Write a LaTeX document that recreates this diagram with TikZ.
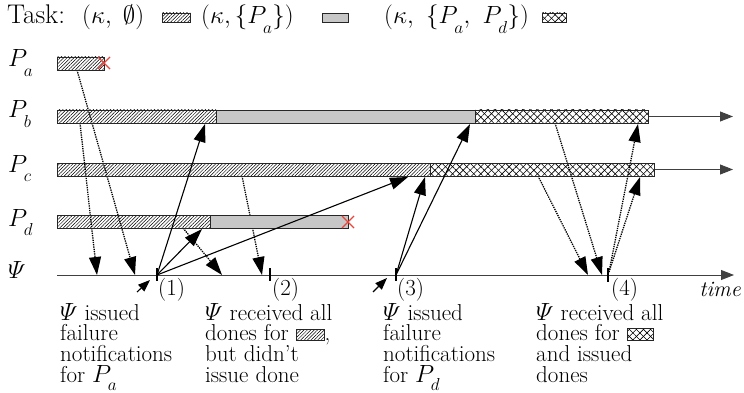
\documentclass[tikz,border=0pt]{standalone}
\usepackage{amsmath}
\usetikzlibrary{arrows.meta,patterns.meta}
\definecolor{barfill}{HTML}{C6C7C6}
\definecolor{xred}{HTML}{E8453C}
\definecolor{axisgray}{HTML}{404040}
\newcommand\Pl[1]{P_{\raisebox{-6pt}{$\scriptstyle #1$}}}
\newcommand\Ps[1]{P_{\raisebox{-4pt}{$\scriptstyle #1$}}}
\tikzset{
  txt/.style={font=\fontsize{23}{20.7}\selectfont, inner sep=0pt},
  lgtxt/.style={font=\fontsize{27}{28}\selectfont, inner sep=0pt},
  rowtxt/.style={font=\fontsize{26}{28}\selectfont, inner sep=0pt},
  barline/.style={draw=black!85, line width=0.9pt},
  hatchbar/.style={barline, pattern={Lines[angle=45,distance=2.4pt,line width=0.5pt]}},
  graybar/.style={barline, fill=barfill},
  crossbar/.style={barline,
     preaction={pattern={Lines[angle=45,distance=5pt,line width=0.6pt]}},
     pattern={Lines[angle=-45,distance=5pt,line width=0.6pt]}},
  axisline/.style={draw=axisgray, line width=0.9pt, -{Triangle[length=13pt,width=10pt]}},
  msg/.style={draw=black, line width=1.1pt, -{Triangle[length=18pt,width=12pt]}},
  dmsg/.style={draw=black, line width=1.3pt, densely dotted, -{Triangle[length=18pt,width=12pt,sep=0pt]}},
  tick/.style={draw=black, line width=2.4pt},
  xmark/.style={draw=xred, line width=1.2pt},
}
\begin{document}
\begin{tikzpicture}[x=1pt,y=-1pt]
\useasboundingbox (0,0) rectangle (744,393);

% ---- legend
\node[lgtxt, anchor=base west] (lg0) at (7,24) {Task:};
\node[lgtxt, anchor=base west] (lg1) at (82,24) {$(\kappa,\;\emptyset)$};
\draw[hatchbar] (162,13) rectangle (190,22);
\node[lgtxt, anchor=base west] (lg2) at (201,24) {$(\kappa,\{\Pl{a}\})$};
\draw[graybar] (322,13) rectangle (348,22);
\node[lgtxt, anchor=base west] (lg3) at (384,24) {$(\kappa,\ \{\Pl{a},\ \Pl{d}\})$};
\draw[crossbar] (542,13) rectangle (566,22);

% ---- row labels
\node[rowtxt, anchor=base west] (la) at (8,67) {$\Pl{a}$};
\node[rowtxt, anchor=base west] (lb) at (8,118) {$\Pl{b}$};
\node[rowtxt, anchor=base west] (lc) at (8,172) {$\Pl{c}$};
\node[rowtxt, anchor=base west] (ld) at (8,226) {$\Pl{d}$};
\node[rowtxt, anchor=base west] (lpsi) at (8,278) {$\varPsi$};

% ---- coordinates
\coordinate (pa1) at (77,70);
\coordinate (pb1) at (80,123);
\coordinate (pc1) at (242,176);
\coordinate (pd1) at (183,228);
\coordinate (pb2) at (555,123);
\coordinate (pc2) at (538,176);
\coordinate (pbin1) at (205,124);
\coordinate (pdin1) at (202,229);
\coordinate (pcin1) at (408,177);
\coordinate (pcin3) at (425,177);
\coordinate (pbin3) at (470,124);
\coordinate (pbin4) at (638,124);
\coordinate (pcin4) at (640,177);
\coordinate (t1) at (157,275);
\coordinate (t3) at (396,275);
\coordinate (t4a) at (609,272);
\coordinate (r1) at (97,275);
\coordinate (r2) at (135,275);
\coordinate (r3) at (222,275);
\coordinate (r4) at (262,275);
\coordinate (r5) at (588,275);
\coordinate (r6) at (602,275);
\coordinate (in1) at (137,292);
\coordinate (in1e) at (150,280);
\coordinate (in3) at (373,292);
\coordinate (in3e) at (387,278);

% ---- axes
\coordinate (bend) at (648,116.5);
\coordinate (bax) at (733,116.5);
\coordinate (cend) at (654,169.5);
\coordinate (cax) at (733,169.5);
\coordinate (psi0) at (57,275);
\coordinate (psiax) at (734,275);
\draw[axisline] (bend) -- (bax);
\draw[axisline] (cend) -- (cax);
\draw[axisline] (psi0) -- (psiax);

% ---- dotted messages (behind bars)
\draw[dmsg] (pa1) -- (r2);
\draw[dmsg] (pb1) -- (r1);
\draw[dmsg] (pc1) -- (r4);
\draw[dmsg] (pd1) -- (r3);
\draw[dmsg] (pb2) -- (r6);
\draw[dmsg] (pc2) -- (r5);
\draw[dmsg] (t4a) -- (pbin4);
\draw[dmsg] (t4a) -- (pcin4);

% ---- bars
\draw[hatchbar] (57,57) rectangle (104,70);
\draw[hatchbar] (57,110) rectangle (216,123);
\draw[graybar] (216,110) rectangle (475,123);
\draw[crossbar] (475,110) rectangle (648,123);
\draw[hatchbar] (57,163) rectangle (430,176);
\draw[crossbar] (430,163) rectangle (654,176);
\draw[hatchbar] (57,215) rectangle (210,228);
\draw[graybar] (210,215) rectangle (348,228);

% crosses
\draw[xmark] (98,57) -- (110,69) (98,69) -- (110,57);
\draw[xmark] (342,216) -- (354,228) (342,228) -- (354,216);

% ---- solid messages
\draw[msg] (t1) -- (pbin1);
\draw[msg] (t1) -- (pdin1);
\draw[msg] (t1) -- (pcin1);
\draw[msg] (t3) -- (pcin3);
\draw[msg] (t3) -- (pbin3);
\draw[draw=black, line width=1.1pt, -{Triangle[length=12pt,width=9pt]}] (in1) -- (in1e);
\draw[draw=black, line width=1.1pt, -{Triangle[length=12pt,width=9pt]}] (in3) -- (in3e);

% ---- ticks
\draw[tick] (157,268) -- (157,281);
\draw[tick] (270,268) -- (270,281);
\draw[tick] (396,268) -- (396,281);
\draw[tick] (608,268) -- (608,282);

\node[txt, anchor=north west] (n1) at (158,278) {(1)};
\node[txt, anchor=north west] (n2) at (272,278) {(2)};
\node[txt, anchor=north west] (n3) at (397,278) {(3)};
\node[txt, anchor=north west] (n4) at (611,278) {(4)};
\node[txt, anchor=north east, font=\fontsize{22}{22}\selectfont] (tm) at (741,282) {\textit{time}};

% ---- explanations
\node[txt, anchor=north west, align=left] (e1) at (60,303)
  {$\varPsi$ issued\\failure\\notifications\\for $\Ps{a}$};
\node[txt, anchor=north west, align=left] (e2) at (205,303)
  {$\varPsi$ received all\\dones for \tikz[baseline=0pt]\draw[hatchbar] (0,0) rectangle (28pt,11pt);,\\but didn't\\issue done};
\node[txt, anchor=north west, align=left] (e3) at (383,303)
  {$\varPsi$ issued\\failure\\notifications\\for $\Ps{d}$};
\node[txt, anchor=north west, align=left] (e4) at (536,303)
  {$\varPsi$ received all\\dones for \tikz[baseline=0pt]\draw[crossbar] (0,0) rectangle (26pt,12pt);\\and issued\\dones};
\end{tikzpicture}
\end{document}
